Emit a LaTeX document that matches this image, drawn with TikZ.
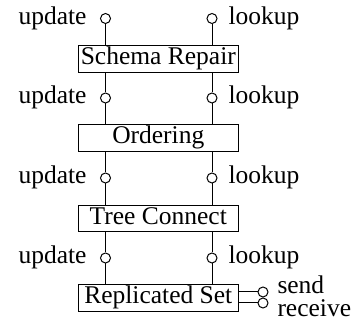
\documentclass[tikz,border=0pt]{standalone}
\usepackage{fontspec}
\setmainfont{Liberation Serif}
\begin{document}
\begin{tikzpicture}[x=1pt,y=1pt,line width=1pt,
  layer/.style={draw,minimum width=160pt,text height=18pt,text depth=6.5pt,inner xsep=0pt,inner ysep=1pt,font=\fontsize{25.5}{28}\selectfont},
  port/.style={circle,draw,fill=white,minimum size=10pt,inner sep=0pt},
  lbl/.style={inner sep=0pt,font=\fontsize{25.5}{28}\selectfont}]
\useasboundingbox (0,0) rectangle (357,322);
% boxes
\node[layer] (b1) at (158.3,263) {Schema Repair};
\node[layer] (b2) at (158.3,184) {Ordering};
\node[layer] (b3) at (158.3,103.7) {Tree Connect};
\node[layer] (b4) at (158.3,24) {Replicated Set};
% ports
\foreach \i/\y in {0/303.5,1/224,2/144,3/64}{
  \node[port] (u\i) at (105.5,\y) {};
  \node[port] (l\i) at (212,\y) {};
  \node[lbl,anchor=base east] (ut\i) at (87,\y-6) {update};
  \node[lbl,anchor=base west] (lt\i) at (228,\y-6) {lookup};
}
% connectors
\draw (u0) -- (u0 |- b1.north);
\draw (l0) -- (l0 |- b1.north);
\draw (b1.south -| u1) -- (u1) -- (u1 |- b2.north);
\draw (b1.south -| l1) -- (l1) -- (l1 |- b2.north);
\draw (b2.south -| u2) -- (u2) -- (u2 |- b3.north);
\draw (b2.south -| l2) -- (l2) -- (l2 |- b3.north);
\draw (b3.south -| u3) -- (u3) -- (u3 |- b4.north);
\draw (b3.south -| l3) -- (l3) -- (l3 |- b4.north);
% send / receive
\node[port] (s) at (263,30) {};
\node[port] (r) at (263,19) {};
\coordinate (se) at (b4.east |- s);
\coordinate (re) at (b4.east |- r);
\draw (se) -- (s);
\draw (re) -- (r);
\node[lbl,anchor=base west] (st) at (277,28) {send};
\node[lbl,anchor=base west] (rt) at (277,5) {receive};
\end{tikzpicture}
\end{document}
